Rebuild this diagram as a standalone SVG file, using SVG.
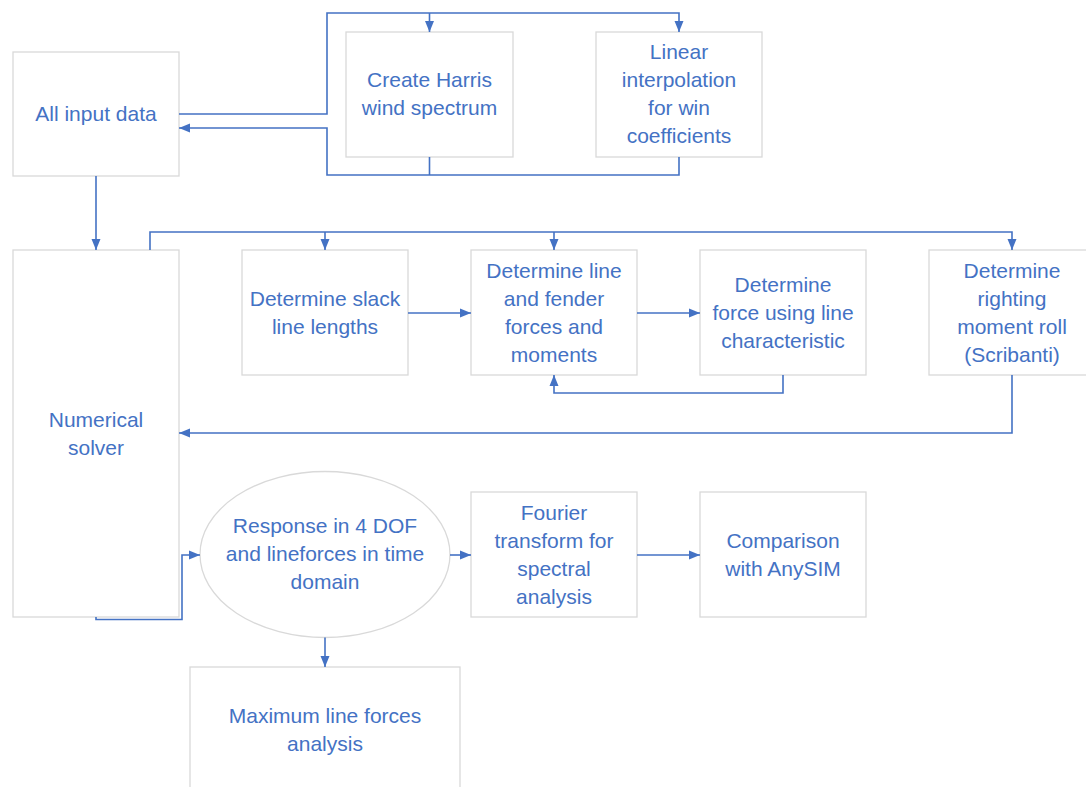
<svg xmlns="http://www.w3.org/2000/svg" width="1086" height="787" viewBox="0 0 1086 787">
  <style>
    .box { fill: #ffffff; stroke: #d9d9d9; stroke-width: 1.3; }
    .lbl { font-family: "Liberation Sans", Arial, sans-serif; font-size: 21px; fill: #4472c4; text-anchor: middle; }
    .wire { fill: none; stroke: #4472c4; stroke-width: 1.6; }
  </style>
  <defs>
    <marker id="arrow" markerUnits="userSpaceOnUse" markerWidth="12" markerHeight="12" viewBox="0 0 12 12" refX="11" refY="6" orient="auto">
      <path d="M0,1.5 L11,6 L0,10.5 Z" fill="#4472c4"/>
    </marker>
  </defs>
  <rect width="1086" height="787" fill="#ffffff"/>

  <!-- process steps -->
  <g id="input-data">
    <rect class="box" x="13" y="52" width="166" height="124"/>
    <text class="lbl" x="96" y="121">All input data</text>
  </g>
  <g id="harris-spectrum">
    <rect class="box" x="346" y="32" width="167" height="125"/>
    <text class="lbl" x="429.5" y="87">Create Harris</text>
    <text class="lbl" x="429.5" y="115">wind spectrum</text>
  </g>
  <g id="wind-coefficients">
    <rect class="box" x="596" y="32" width="166" height="125"/>
    <text class="lbl" x="679" y="59">Linear</text>
    <text class="lbl" x="679" y="87">interpolation</text>
    <text class="lbl" x="679" y="115">for win</text>
    <text class="lbl" x="679" y="143">coefficients</text>
  </g>
  <g id="numerical-solver">
    <rect class="box" x="13" y="250" width="166" height="367"/>
    <text class="lbl" x="96" y="427">Numerical</text>
    <text class="lbl" x="96" y="455">solver</text>
  </g>
  <g id="slack-lengths">
    <rect class="box" x="242" y="250" width="166" height="125"/>
    <text class="lbl" x="325" y="306">Determine slack</text>
    <text class="lbl" x="325" y="334">line lengths</text>
  </g>
  <g id="line-fender-forces">
    <rect class="box" x="471" y="250" width="166" height="125"/>
    <text class="lbl" x="554" y="278">Determine line</text>
    <text class="lbl" x="554" y="306">and fender</text>
    <text class="lbl" x="554" y="334">forces and</text>
    <text class="lbl" x="554" y="362">moments</text>
  </g>
  <g id="line-characteristic">
    <rect class="box" x="700" y="250" width="166" height="125"/>
    <text class="lbl" x="783" y="292">Determine</text>
    <text class="lbl" x="783" y="320">force using line</text>
    <text class="lbl" x="783" y="348">characteristic</text>
  </g>
  <g id="righting-moment">
    <rect class="box" x="929" y="250" width="166" height="125"/>
    <text class="lbl" x="1012" y="278">Determine</text>
    <text class="lbl" x="1012" y="306">righting</text>
    <text class="lbl" x="1012" y="334">moment roll</text>
    <text class="lbl" x="1012" y="362">(Scribanti)</text>
  </g>
  <g id="time-response">
    <ellipse class="box" cx="325" cy="554.5" rx="125" ry="83"/>
    <text class="lbl" x="325" y="533">Response in 4 DOF</text>
    <text class="lbl" x="325" y="561">and lineforces in time</text>
    <text class="lbl" x="325" y="589">domain</text>
  </g>
  <g id="fourier-transform">
    <rect class="box" x="471" y="492" width="166" height="125"/>
    <text class="lbl" x="554" y="520">Fourier</text>
    <text class="lbl" x="554" y="548">transform for</text>
    <text class="lbl" x="554" y="576">spectral</text>
    <text class="lbl" x="554" y="604">analysis</text>
  </g>
  <g id="anysim-comparison">
    <rect class="box" x="700" y="492" width="166" height="125"/>
    <text class="lbl" x="783" y="548">Comparison</text>
    <text class="lbl" x="783" y="576">with AnySIM</text>
  </g>
  <g id="max-line-forces">
    <rect class="box" x="190" y="667" width="270" height="140"/>
    <text class="lbl" x="325" y="723">Maximum line forces</text>
    <text class="lbl" x="325" y="751">analysis</text>
  </g>

  <!-- connectors -->
  <g id="connectors">
    <!-- input data out to wind models -->
    <path class="wire" d="M179,114 H327 V13 H679 V32" marker-end="url(#arrow)"/>
    <path class="wire" d="M429.5,13 V32" marker-end="url(#arrow)"/>
    <!-- wind models back to input data -->
    <path class="wire" d="M429.5,157 V175 M679,157 V175 H327 V128 H179" marker-end="url(#arrow)"/>
    <!-- input data to solver -->
    <path class="wire" d="M96,176 V250" marker-end="url(#arrow)"/>
    <!-- solver feeding the force models -->
    <path class="wire" d="M150,250 V232 H1012 V250" marker-end="url(#arrow)"/>
    <path class="wire" d="M325,232 V250" marker-end="url(#arrow)"/>
    <path class="wire" d="M554,232 V250" marker-end="url(#arrow)"/>
    <path class="wire" d="M408,313 H471" marker-end="url(#arrow)"/>
    <path class="wire" d="M637,313 H700" marker-end="url(#arrow)"/>
    <path class="wire" d="M783,375 V393 H554 V375" marker-end="url(#arrow)"/>
    <!-- righting moment back to solver -->
    <path class="wire" d="M1012,375 V433 H179" marker-end="url(#arrow)"/>
    <!-- solver to time response and onward -->
    <path class="wire" d="M96,617 V619.5 H182 V555 H200" marker-end="url(#arrow)"/>
    <path class="wire" d="M450,555 H471" marker-end="url(#arrow)"/>
    <path class="wire" d="M637,555 H700" marker-end="url(#arrow)"/>
    <path class="wire" d="M325,637.5 V667" marker-end="url(#arrow)"/>
  </g>
</svg>
